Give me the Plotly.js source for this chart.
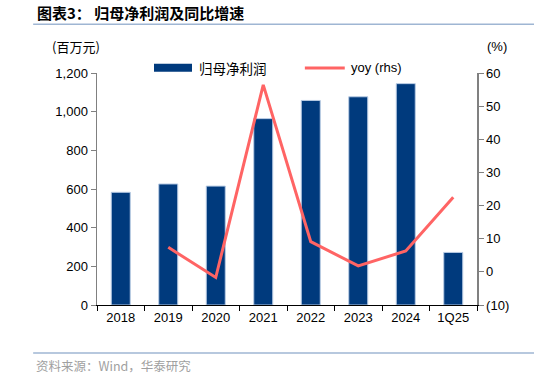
<!DOCTYPE html>
<html><head><meta charset="utf-8">
<script src="https://cdn.plot.ly/plotly-3.0.1.min.js"></script>
<style>html,body{margin:0;padding:0;background:#fff}#c{width:534px;height:378px}</style>
</head><body><div id="c"></div>
<script>
const categories = ["2018","2019","2020","2021","2022","2023","2024","1Q25"];
const netProfit = [583, 626, 615, 964, 1058, 1077, 1145, 272];
const yoy = [null, 7.4, -1.7, 56.4, 9.1, 1.8, 6.3, 22.5];
const leftTicks = [0,200,400,600,800,1000,1200];
const leftTickText = ["0","200","400","600","800","1,000","1,200"];
const rightTicks = [-10,0,10,20,30,40,50,60];
const rightTickText = ["(10)","0","10","20","30","40","50","60"];

const navy = "#003A7D", red = "#FF6464";
const F = "Liberation Sans, Arial, sans-serif";
const CJK = "Noto Sans CJK SC, sans-serif";

const traces = [
  {type:"bar", x:categories, y:netProfit, name:"归母净利润", marker:{color:navy, line:{color:"#B8CBE4", width:1}}, width:0.4, yaxis:"y"},
  {type:"scatter", mode:"lines", x:categories, y:yoy, name:"yoy (rhs)", line:{color:red, width:3}, yaxis:"y2", connectgaps:false}
];
const layout = {
  width:534, height:378, margin:{l:97, r:57, t:73, b:73},
  paper_bgcolor:"#fff", plot_bgcolor:"#fff", showlegend:false,
  font:{family:F, size:13, color:"#000"},
  xaxis:{type:"category", showgrid:false, showline:true, linecolor:"#000", linewidth:1,
    ticks:"outside", tickson:"boundaries", ticklen:5, tickcolor:"#000", tickfont:{size:13}},
  yaxis:{range:[0,1200], tickvals:leftTicks, ticktext:leftTickText, showgrid:false, zeroline:false,
    showline:true, linecolor:"#808080", linewidth:1.5, ticks:"outside", ticklen:5, tickcolor:"#808080", tickfont:{size:13}},
  yaxis2:{range:[-10,60], overlaying:"y", side:"right", tickvals:rightTicks, ticktext:rightTickText, showgrid:false, zeroline:false,
    showline:true, linecolor:"#808080", linewidth:1.5, ticks:"outside", ticklen:5, tickcolor:"#808080", tickfont:{size:13}},
  shapes:[
    {type:"line", xref:"paper", yref:"paper", x0:-0.168, x1:1.15, y0:1.21, y1:1.21, line:{color:"#9FB6D3", width:1.5}},
    {type:"line", xref:"paper", yref:"paper", x0:-0.168, x1:1.15, y0:-0.207, y1:-0.207, line:{color:"#9FB6D3", width:1.5}},
    {type:"rect", xref:"paper", yref:"paper", x0:0.15, x1:0.25, y0:1.005, y1:1.04, fillcolor:navy, line:{width:0}},
    {type:"line", xref:"paper", yref:"paper", x0:0.547, x1:0.652, y0:1.022, y1:1.022, line:{color:red, width:3}}
  ],
  annotations:[
    {xref:"paper", yref:"paper", x:-0.163, y:1.259, xanchor:"left", yanchor:"middle", showarrow:false,
     text:"<b>图表3： 归母净利润及同比增速</b>", font:{family:CJK, size:15, color:"#000"}},
    {xref:"paper", yref:"paper", x:-0.125, y:1.115, xanchor:"left", yanchor:"middle", showarrow:false,
     text:"(百万元)", font:{family:CJK, size:13, color:"#000"}},
    {xref:"paper", yref:"paper", x:1.02, y:1.115, xanchor:"left", yanchor:"middle", showarrow:false,
     text:"(%)", font:{family:F, size:13, color:"#000"}},
    {xref:"paper", yref:"paper", x:0.262, y:1.022, xanchor:"left", yanchor:"middle", showarrow:false,
     text:"归母净利润", font:{family:CJK, size:13.5, color:"#000"}},
    {xref:"paper", yref:"paper", x:0.662, y:1.022, xanchor:"left", yanchor:"middle", showarrow:false,
     text:"yoy (rhs)", font:{family:F, size:13, color:"#000"}},
    {xref:"paper", yref:"paper", x:-0.165, y:-0.259, xanchor:"left", yanchor:"middle", showarrow:false,
     text:"资料来源：Wind，华泰研究", font:{family:CJK, size:12.5, color:"#A0A0A0"}}
  ]
};
Plotly.newPlot("c", traces, layout, {staticPlot:true, displayModeBar:false});
</script></body></html>
